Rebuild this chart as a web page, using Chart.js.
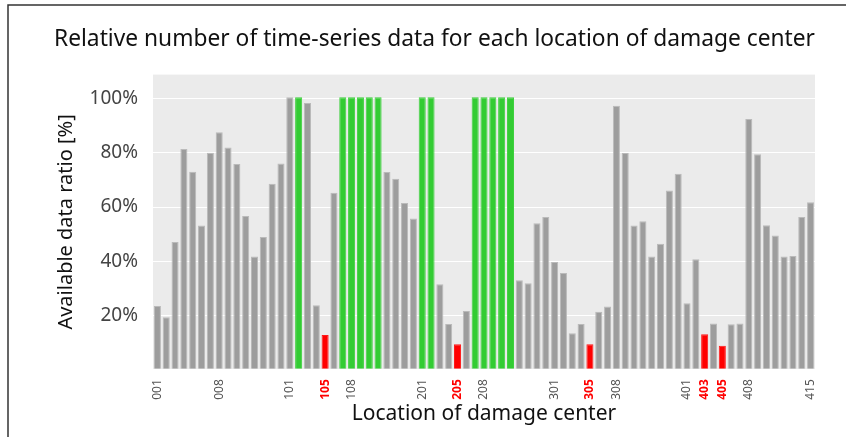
<!DOCTYPE html>
<html>
<head>
<meta charset="utf-8">
<script src="https://cdn.jsdelivr.net/npm/chart.js@4"></script>
<style>
  html, body { margin: 0; padding: 0; background: #fff; }
  #wrap { width: 846px; height: 437px; position: relative; }
</style>
</head>
<body>
<div id="wrap"><canvas id="myChart" width="846" height="437"></canvas></div>
<script>
// locations 001-015, 101-115, 201-215, 301-315, 401-415
const groups = ["0", "1", "2", "3", "4"];
const locations = [];
groups.forEach(g => {
  for (let i = 1; i <= 15; i++) locations.push(g + String(i).padStart(2, "0"));
});

// available data ratio [%]
const ratios = [
  23.4, 19.2, 47.1, 81.5, 73.1, 53.2, 80.1, 87.7, 82.0, 75.9, 56.7, 41.7, 48.9, 68.6, 76.1,
  100.6, 100.6, 98.5, 23.7, 12.7, 65.3, 100.6, 100.6, 100.6, 100.6, 100.6, 73.0, 70.5, 61.5, 55.8,
  100.6, 100.6, 31.4, 16.7, 9.2, 21.5, 100.6, 100.6, 100.6, 100.6, 100.6, 32.9, 31.8, 54.0, 56.3,
  39.7, 35.6, 13.3, 16.7, 9.2, 21.3, 23.2, 97.5, 80.0, 53.2, 54.7, 41.7, 46.4, 66.1, 72.3,
  24.4, 40.7, 12.9, 16.9, 8.7, 16.6, 16.9, 92.6, 79.5, 53.3, 49.5, 41.7, 41.9, 56.3, 61.8
];

// complete locations and missing (red) locations
const complete = ["102", "107", "108", "109", "110", "111", "201", "202", "207", "208", "209", "210", "211"];
const missing = ["105", "205", "305", "403", "405"];

// tick labels shown on the x axis
const shownTicks = ["001", "008", "101", "105", "108", "201", "205", "208", "301", "305", "308", "401", "403", "405", "408", "415"];
const yTicks = [20, 40, 60, 80, 100];

const barColors = locations.map(l => complete.includes(l) ? "#33cc33" : missing.includes(l) ? "#ff0000" : "#9d9d9d");
const borderColors = locations.map(l => complete.includes(l) ? "#3fd03f" : missing.includes(l) ? "#ff1a1a" : "#bababa");

// grey panel and outer frame
const panel = {
  id: "panel",
  beforeDraw(chart) {
    const c = chart.ctx, a = chart.chartArea;
    c.save();
    c.fillStyle = "#ebebeb";
    c.fillRect(a.left, a.top, a.right - a.left, a.bottom - a.top);
    c.strokeStyle = "#333";
    c.lineWidth = 1.5;
    c.beginPath();
    c.moveTo(8, 437);
    c.lineTo(8, 5);
    c.lineTo(846, 5);
    c.stroke();
    c.restore();
  }
};

new Chart("myChart", {
  type: "bar",
  data: {
    labels: locations,
    datasets: [{
      data: ratios,
      backgroundColor: barColors,
      borderColor: borderColors,
      borderWidth: 1,
      barPercentage: 0.8,
      categoryPercentage: 1.0
    }]
  },
  options: {
    responsive: false,
    animation: false,
    layout: { padding: { left: 54, right: 31, top: 0, bottom: 10 } },
    plugins: {
      legend: { display: false },
      tooltip: { enabled: false },
      title: {
        display: true,
        text: "Relative number of time-series data for each location of damage center",
        color: "#111",
        font: { family: "Noto Sans", size: 23, weight: "normal" },
        padding: { top: 26, bottom: 21 }
      }
    },
    scales: {
      x: {
        grid: { display: false },
        border: { display: false },
        ticks: {
          autoSkip: false,
          minRotation: 90,
          maxRotation: 90,
          padding: 2,
          callback: function (v) {
            const l = locations[v];
            return shownTicks.includes(l) ? l : "";
          },
          color: ctx => missing.includes(locations[ctx.index]) ? "#ff0000" : "#555",
          font: ctx => missing.includes(locations[ctx.index])
            ? { family: "Noto Sans", size: 12, weight: "bold" }
            : { family: "Noto Sans", size: 12 }
        },
        title: {
          display: true,
          text: "Location of damage center",
          color: "#111",
          font: { family: "Noto Sans", size: 21 },
          padding: { top: 0, bottom: 0 }
        }
      },
      y: {
        min: 0,
        max: 109,
        afterBuildTicks: axis => { axis.ticks = [0].concat(yTicks).map(v => ({ value: v })); },
        afterFit: axis => { axis.width = 99; },
        grid: { color: "#ffffff", lineWidth: 1, drawTicks: false },
        border: { display: false },
        ticks: {
          padding: 15,
          color: "#444",
          font: { family: "Noto Sans", size: 19 },
          callback: v => v === 0 ? "" : v + "%"
        },
        title: {
          display: true,
          text: "Available data ratio [%]",
          color: "#111",
          font: { family: "Noto Sans", size: 20 },
          padding: { top: 0, bottom: 0 }
        }
      }
    }
  },
  plugins: [panel]
});
</script>
</body>
</html>
